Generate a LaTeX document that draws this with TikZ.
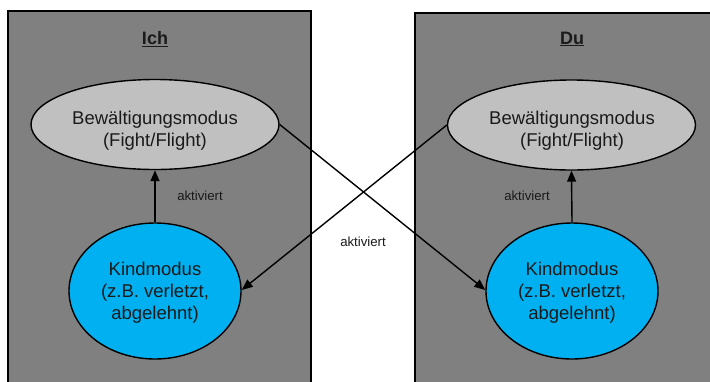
\documentclass[tikz,border=0pt]{standalone}
\usepackage{fontspec}
\setmainfont{Liberation Sans}
\usetikzlibrary{shapes.geometric,arrows.meta}
\definecolor{boxgray}{HTML}{808080}
\definecolor{lightell}{HTML}{C0C0C0}
\definecolor{kindblue}{HTML}{00B0F0}
\definecolor{txt}{HTML}{1A1A1A}
\tikzset{
  panel/.style={draw=black, line width=2pt, fill=boxgray},
  bew/.style={ellipse, draw=black, line width=1.4pt, fill=lightell, minimum width=248pt, minimum height=90pt, inner sep=0pt},
  kind/.style={ellipse, draw=black, line width=1.4pt, fill=kindblue, minimum width=172pt, minimum height=136pt, inner sep=0pt},
  etext/.style={align=center, text=txt, inner sep=0pt, font=\fontsize{18.5}{22}\selectfont},
  lbl/.style={text=txt, font=\fontsize{13.2}{15}\selectfont, inner sep=0pt},
  title/.style={text=txt, font=\bfseries\fontsize{18}{21}\selectfont, inner sep=0pt},
  arr/.style={draw=black, line width=1.4pt, -{Triangle[length=11pt,width=9pt]}}
}
\begin{document}
\begin{tikzpicture}[x=1pt,y=-1pt]
\useasboundingbox (0,0) rectangle (710,381);
\clip (0,0) rectangle (710,381);
\fill[white] (0,0) rectangle (710,381);
\draw[panel] (8,11) rectangle (311,400);
\draw[panel] (415,13) rectangle (730,400);
\node[title] (ich) at (155,39) {\underline{Ich}};
\node[title] (du) at (572,39) {\underline{Du}};
\node[bew] (bewL) at (155,124.5) {};
\node[bew] (bewR) at (571.5,125) {};
\node[kind] (kindL) at (155,291) {};
\node[kind] (kindR) at (572,291) {};
\node[etext] (bewLt) at (155,131) {Bewältigungsmodus\\(Fight/Flight)};
\node[etext] (bewRt) at (572,131) {Bewältigungsmodus\\(Fight/Flight)};
\node[etext] (kindLt) at (155,293) {Kindmodus\\(z.B. verletzt,\\abgelehnt)};
\node[etext] (kindRt) at (572,293) {Kindmodus\\(z.B. verletzt,\\abgelehnt)};
\draw[arr] (kindL.north) -- (bewL.south);
\draw[arr] (kindR.north) -- (bewR.south);
\draw[arr] (bewL.east) -- (kindR.west |- 0,290);
\draw[arr] (bewR.west) -- (kindL.east |- 0,290);
\node[lbl] (aL) at (200,196) {aktiviert};
\node[lbl] (aR) at (527,196) {aktiviert};
\node[lbl] (aM) at (363,242) {aktiviert};
\end{tikzpicture}
\end{document}
